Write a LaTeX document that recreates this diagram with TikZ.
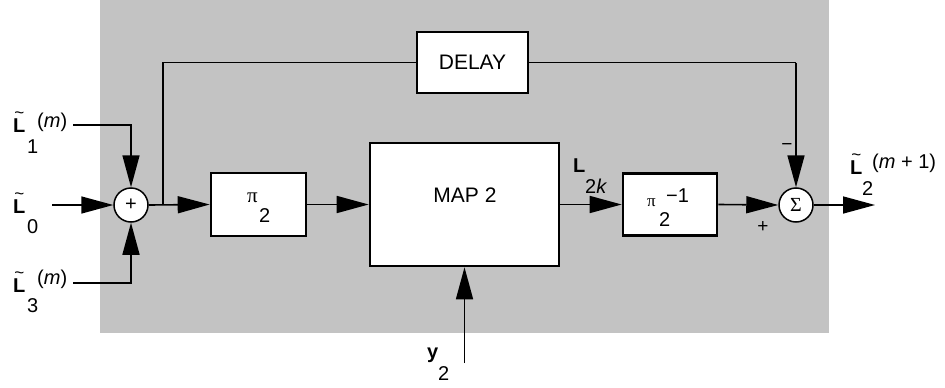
\documentclass[tikz,border=0pt]{standalone}
\usepackage{fontspec}
\setmainfont{Liberation Sans}
\newfontfamily\symfont{Liberation Serif}
\usetikzlibrary{arrows.meta}
\definecolor{panel}{RGB}{195,195,195}
% bold L with a tilde set above it
\newcommand{\tildeL}{\rlap{\hspace{1.2pt}\raisebox{13.5pt}{\fontsize{17}{18}\selectfont\textasciitilde}}{\bfseries L}}
\begin{document}
\begin{tikzpicture}[x=1pt,y=-1pt,
  box/.style={draw, line width=2.6pt, fill=white, inner sep=0pt},
  sumnode/.style={draw, circle, line width=1.5pt, fill=white, minimum size=34pt, inner sep=0pt,
                  font=\fontsize{20}{22}\selectfont},
  sig/.style={line width=1.6pt, -{Triangle[length=32pt,width=17pt]}},
  fb/.style={line width=1.2pt},
  txt/.style={inner sep=0pt, font=\fontsize{21}{24}\selectfont},
  lab/.style={inner sep=0pt, font=\fontsize{20}{24}\selectfont, anchor=base west},
  sgn/.style={inner sep=0pt, font=\fontsize{19}{20}\selectfont}
]
\useasboundingbox (0,0) rectangle (945,388);
% shaded panel
\fill[panel] (100,0) rectangle (829,333);

% blocks
\node[box, minimum width=111pt, minimum height=61pt] (delay) at (472.5,62.5) {};
\node[txt] at (472.5,62) {DELAY};
\node[box, minimum width=95pt, minimum height=63pt] (p2) at (258.5,204.5) {};
\node[box, minimum width=189pt, minimum height=123pt] (map) at (464.5,204.5) {};
\node[txt] at (465,195) {MAP 2};
\node[box, minimum width=94pt, minimum height=62pt] (pinv) at (670,204.5) {};
\node[sumnode] (plus) at (131,205) {+};
\node[sumnode] (sum) at (796,205) {\symfont Σ};

% interleaver labels
\node[lab, font=\fontsize{21}{24}\selectfont] at (247,202) {\symfont π};
\node[lab] at (259,222) {2};
\node[lab, font=\fontsize{17}{20}\selectfont] at (647,206) {\symfont π};
\node[lab] at (666,202) {−1};
\node[lab] at (659,226) {2};

% free ends and corners of the wires
\coordinate (in1) at (73,125);
\coordinate (in0) at (52,205);
\coordinate (in3) at (73,283);
\coordinate (tap) at (163,205);
\coordinate (out) at (875,205);
\coordinate (ysrc) at (464.5,363);
\coordinate (fbcorner) at (796,62.5);

% wires
\draw[sig] (in1) -| (plus.north);
\draw[sig] (in0) -- (plus.west);
\draw[sig] (in3) -| (plus.south);
\draw[sig] (plus.east) -- (p2.west);
\draw[sig] (p2.east) -- (map.west);
\draw[sig] (map.east) -- (pinv.west);
\draw[sig] (pinv.east) -- (sum.west);
\draw[sig] (sum.east) -- (out);
\draw[sig] (ysrc) -- (map.south);
\draw[fb] (tap) |- (delay.west);
\draw[fb] (delay.east) -- (fbcorner);
\draw[sig] (fbcorner) -- (sum.north);

% input and output labels
\node[lab] at (13,132) {\tildeL};
\node[lab] at (27,153) {1};
\node[lab] at (37,127) {(\textit{m})};

\node[lab] at (13,213) {\tildeL};
\node[lab] at (27,233) {0};

\node[lab] at (13,292) {\tildeL};
\node[lab] at (27,312) {3};
\node[lab] at (37,284) {(\textit{m})};

\node[lab] at (850,174) {\tildeL};
\node[lab] at (862,195) {2};
\node[lab] at (872,168) {(\textit{m} + 1)};

\node[lab] at (573,172) {\bfseries L};
\node[lab] at (585,193) {2\textit{k}};

\node[lab] at (427,358) {\bfseries y};
\node[lab] at (438,380) {2};

% signs at the summing junction
\node[sgn] at (787,147) {−};
\node[sgn] at (763,227) {+};
\end{tikzpicture}
\end{document}
